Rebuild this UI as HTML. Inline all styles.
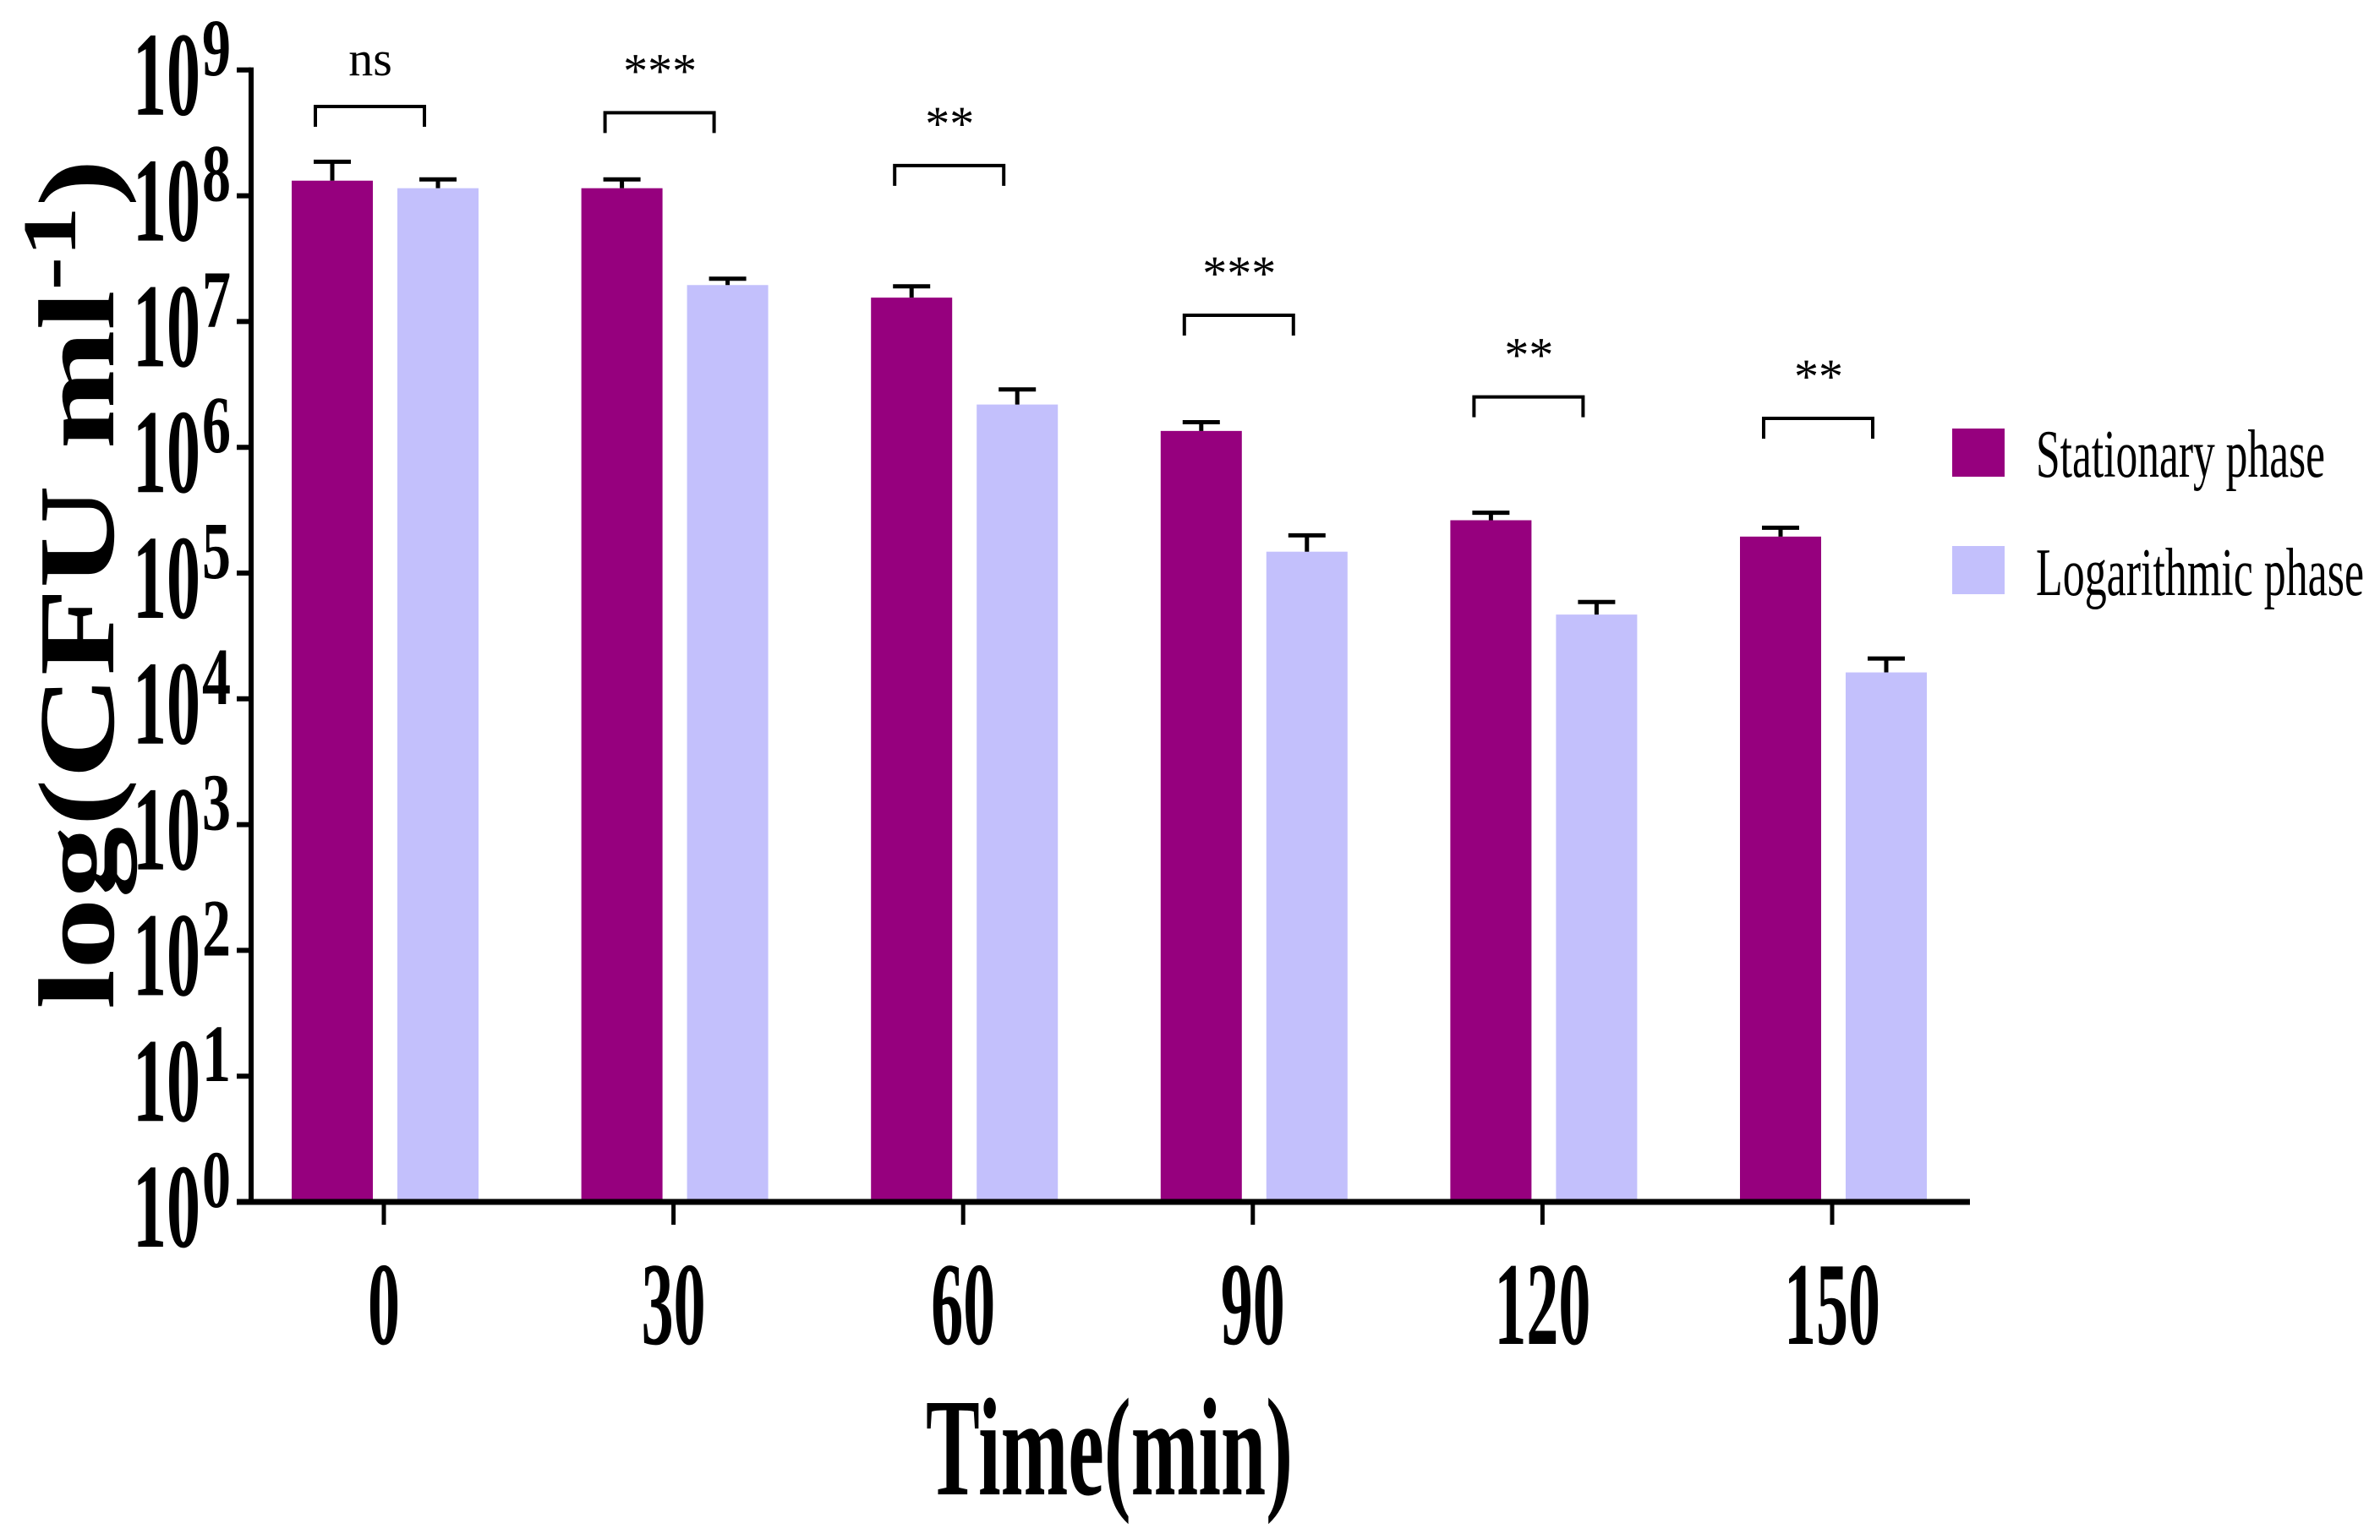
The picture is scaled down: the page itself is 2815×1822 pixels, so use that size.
<!DOCTYPE html>
<html><head><meta charset="utf-8"><style>html,body{margin:0;padding:0;background:#fff;}svg{display:block;}</style></head>
<body>
<svg id="chart" width="2815" height="1822" viewBox="0 0 2815 1822" xmlns="http://www.w3.org/2000/svg" font-family="'Liberation Serif', serif"></svg>
<script>
const categories = ["0","30","60","90","120","150"];
const stationaryVals = [8.12, 8.06, 7.19, 6.13, 5.42, 5.29];
const stationaryErr = [8.27, 8.13, 7.28, 6.20, 5.48, 5.36];
const logVals = [8.06, 7.29, 6.34, 5.17, 4.67, 4.21];
const logErr = [8.13, 7.34, 6.46, 5.30, 4.77, 4.32];
const sigLabels = ["ns","***","**","***","**","**"];
const sigLevel = [8.71, 8.66, 8.24, 7.05, 6.40, 6.23];
const yTicks = [0,1,2,3,4,5,6,7,8,9];

const NS="http://www.w3.org/2000/svg";
const svg=document.getElementById('chart');
const Y0=1422, DEC=148.8, X0=454, STEP=342.6;
const yScale=v=>Y0-v*DEC;
const xScale=i=>X0+i*STEP;
function mk(tag,attrs,parent){const e=document.createElementNS(NS,tag);for(const k in attrs)e.setAttribute(k,attrs[k]);(parent||svg).appendChild(e);return e;}

categories.forEach((c,i)=>{
  const cx=xScale(i);
  const s=mk('rect',{x:cx-109,y:yScale(stationaryVals[i]),width:96,height:Y0-yScale(stationaryVals[i]),fill:'#96007E'});
  
  
  const l=mk('rect',{x:cx+16,y:yScale(logVals[i]),width:96,height:Y0-yScale(logVals[i]),fill:'#C3C0FC'});
  
  
  [[cx-61,stationaryVals[i],stationaryErr[i],'stationary'],[cx+64,logVals[i],logErr[i],'logarithmic']].forEach(([ex,v,e,n])=>{
    const g=mk('path',{d:`M${ex} ${yScale(v)}V${yScale(e)}M${ex-22} ${yScale(e)}H${ex+22}`,stroke:'#000','stroke-width':5,fill:'none'});
    
    
  });
  const by=yScale(sigLevel[i]);
  const br=mk('path',{d:`M${cx-81} ${by+24}V${by}H${cx+48}V${by+24}`,stroke:'#000','stroke-width':4,fill:'none'});
  
  
  const isNs=sigLabels[i]==='ns';
  const t=mk('text',{x:cx-16,y:by-(isNs?37:30),'font-size':isNs?58:58,'text-anchor':'middle'});
  t.textContent=sigLabels[i];
  
  
  const tk=mk('line',{x1:cx,y1:Y0,x2:cx,y2:Y0+27,stroke:'#000','stroke-width':5});
  
  
  const xl=mk('text',{x:cx,y:1590,'font-size':140,'font-weight':'bold','text-anchor':'middle',textLength:38*c.length,lengthAdjust:'spacingAndGlyphs'});
  xl.textContent=c;
  
  
});

const ya=mk('line',{x1:297,y1:yScale(9)-3,x2:297,y2:Y0+3,stroke:'#000','stroke-width':6});


const xa=mk('line',{x1:280,y1:Y0,x2:2330,y2:Y0,stroke:'#000','stroke-width':7});



yTicks.forEach(p=>{
  const y=yScale(p);
  const tk=mk('line',{x1:280,y1:y,x2:297,y2:y,stroke:'#000','stroke-width':6});
  
  
  const t=mk('text',{x:157,y:y+53,'font-size':142,'font-weight':'bold',textLength:80,lengthAdjust:'spacingAndGlyphs'});
  t.textContent='10';
  
  
  const s=mk('text',{x:239,y:y+6,'font-size':96,'font-weight':'bold',textLength:34,lengthAdjust:'spacingAndGlyphs'});
  s.textContent=String(p);
  
  
});
</script>
<script>
(function(){
const NS="http://www.w3.org/2000/svg";const svg=document.getElementById('chart');
function mk(tag,attrs,parent){const e=document.createElementNS(NS,tag);for(const k in attrs)e.setAttribute(k,attrs[k]);(parent||svg).appendChild(e);return e;}
const yt=mk('text',{transform:'translate(134,1194) rotate(-90)','font-size':128,'font-weight':'bold'});


const a=mk('tspan',{},yt);a.textContent='log(CFU ml';
const b=mk('tspan',{dy:-45,'font-size':90},yt);b.textContent='-1';
const c=mk('tspan',{dy:45},yt);c.textContent=')';
const bb=yt.getBBox();
if(bb.width>0){const sc=1006/bb.width;yt.setAttribute('transform',`translate(134,1194) rotate(-90) scale(${sc},1)`);}
const xt=mk('text',{x:1095,y:1768,'font-size':165,'font-weight':'bold',textLength:434,lengthAdjust:'spacingAndGlyphs'});
xt.textContent='Time(min)';


const l1=mk('rect',{x:2309,y:507,width:62,height:57,fill:'#96007E'});


const t1=mk('text',{x:2408,y:564,'font-size':80,textLength:342,lengthAdjust:'spacingAndGlyphs'});
t1.textContent='Stationary phase';


const l2=mk('rect',{x:2309,y:646,width:62,height:57,fill:'#C3C0FC'});


const t2=mk('text',{x:2408,y:704,'font-size':80,textLength:388,lengthAdjust:'spacingAndGlyphs'});
t2.textContent='Logarithmic phase';


})();
</script>
</body></html>
